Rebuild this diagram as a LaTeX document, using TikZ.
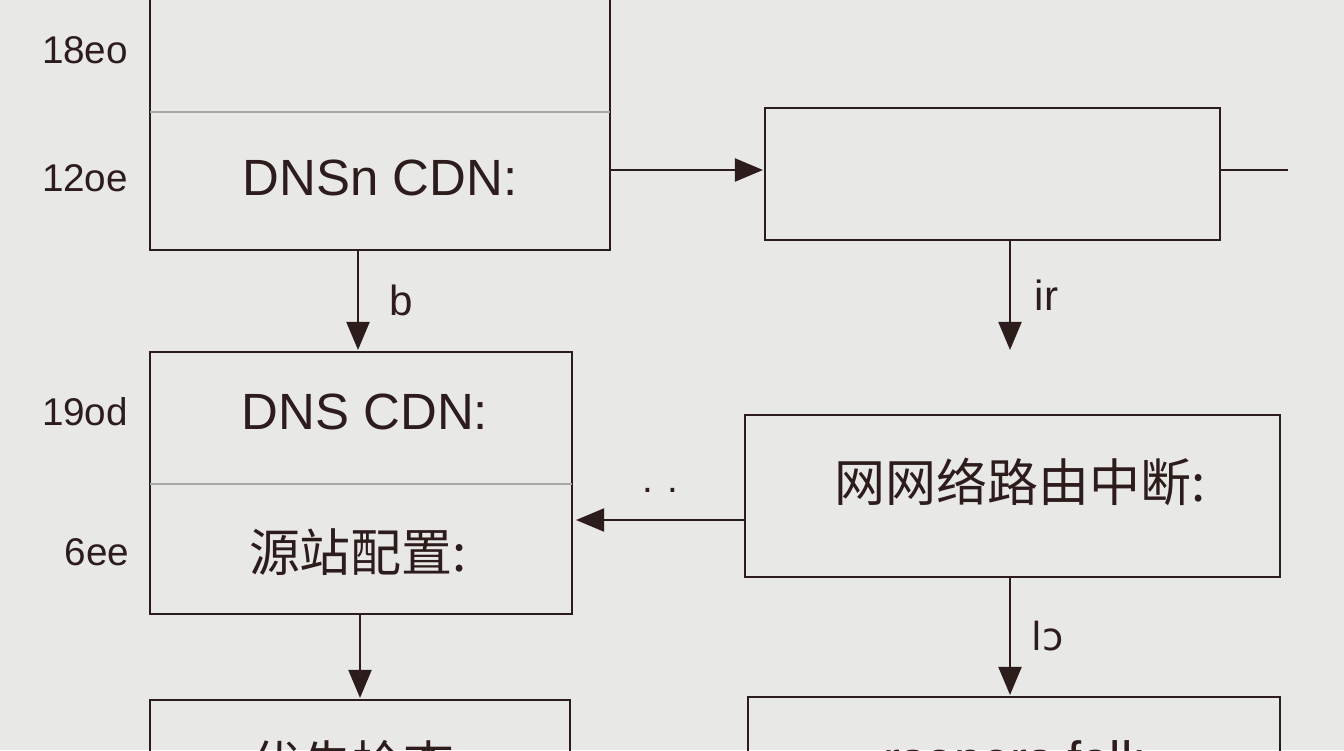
\documentclass[tikz,border=0pt]{standalone}
\usepackage{fontspec}
\setmainfont{Liberation Sans}
\newfontfamily\cjk{Noto Sans CJK SC}
\newfontfamily\dejavu{DejaVu Sans}
\usetikzlibrary{positioning, arrows.meta}
\definecolor{ink}{RGB}{45,28,28}
\definecolor{paper}{RGB}{232,232,230}
\tikzset{
  box/.style={draw=ink, line width=1.6pt},
  sep/.style={draw=gray!70, line width=1pt},
  flow/.style={-{Triangle[length=16pt,width=13pt]}, draw=ink, line width=1.6pt},
  big/.style={text=ink, font=\fontsize{29}{33}\selectfont},
  side/.style={text=ink, font=\fontsize{22}{26}\selectfont},
}
\begin{document}
\begin{tikzpicture}[x=0.02cm, y=-0.02cm]
  \useasboundingbox (0,0) rectangle (1344,750);
  \clip (0,0) rectangle (1344,750);
  \fill[paper] (0,0) rectangle (1344,750);
  % upper left box
  \draw[box] (150,-20) rectangle (610,250);
  \draw[sep] (150,112) -- (610,112);
  \node[big] (dnsn) at (380,178) {DNSn CDN:};
  \node[side] (l18) at (85,50) {18eo};
  \node[side] (l12) at (85,178) {12oe};
  % upper right box
  \draw[box] (765,108) rectangle (1220,240);
  \coordinate (aout) at (610,170);
  \coordinate (bin) at (763,170);
  \coordinate (bout) at (1220,170);
  \coordinate (bend) at (1288,170);
  \draw[flow] (aout) -- (bin);
  \draw[ink, line width=1.6pt] (bout) -- (bend);
  % middle left box
  \draw[box] (150,352) rectangle (572,614);
  \draw[sep] (150,484) -- (572,484);
  \node[big] (dns) at (365,412) {DNS CDN:};
  \node[big, font=\cjk\fontsize{29}{33}\selectfont] (src) at (358,552) {源站配置:};
  \node[side] (l19) at (85,412) {19od};
  \node[side] (l6) at (97,552) {6ee};
  % middle right box
  \draw[box] (745,415) rectangle (1280,577);
  \node[big, font=\cjk\fontsize{29}{33}\selectfont] (net) at (1020,482) {网网络路由中断:};
  % bottom boxes
  \draw[box] (150,700) rectangle (570,800);
  \node[big, font=\cjk\fontsize{29}{33}\selectfont] (chk) at (360,764) {优先检查:};
  \draw[box] (748,697) rectangle (1280,800);
  \node[big] (fall) at (1015,764) {rsepers fall:};
  % connectors
  \coordinate (adown) at (358,250);
  \coordinate (cup) at (358,350);
  \draw[flow] (adown) -- (cup) node[midway, right=14pt, side, font=\fontsize{24}{28}\selectfont] {b};
  \coordinate (bdown) at (1010,240);
  \coordinate (dup) at (1010,350);
  \draw[flow] (bdown) -- (dup) node[midway, right=10pt, side, font=\fontsize{24}{28}\selectfont] {ir};
  \coordinate (dleft) at (745,520);
  \coordinate (cright) at (576,520);
  \draw[flow] (dleft) -- (cright);
  \node[side] (dots) at (660,490) {. .};
  \coordinate (cdown) at (360,614);
  \coordinate (eup) at (360,698);
  \draw[flow] (cdown) -- (eup);
  \coordinate (ddown) at (1010,577);
  \coordinate (fup) at (1010,695);
  \draw[flow] (ddown) -- (fup) node[midway, right=8pt, side, font=\dejavu\fontsize{22}{26}\selectfont] {lɔ};
\end{tikzpicture}
\end{document}
